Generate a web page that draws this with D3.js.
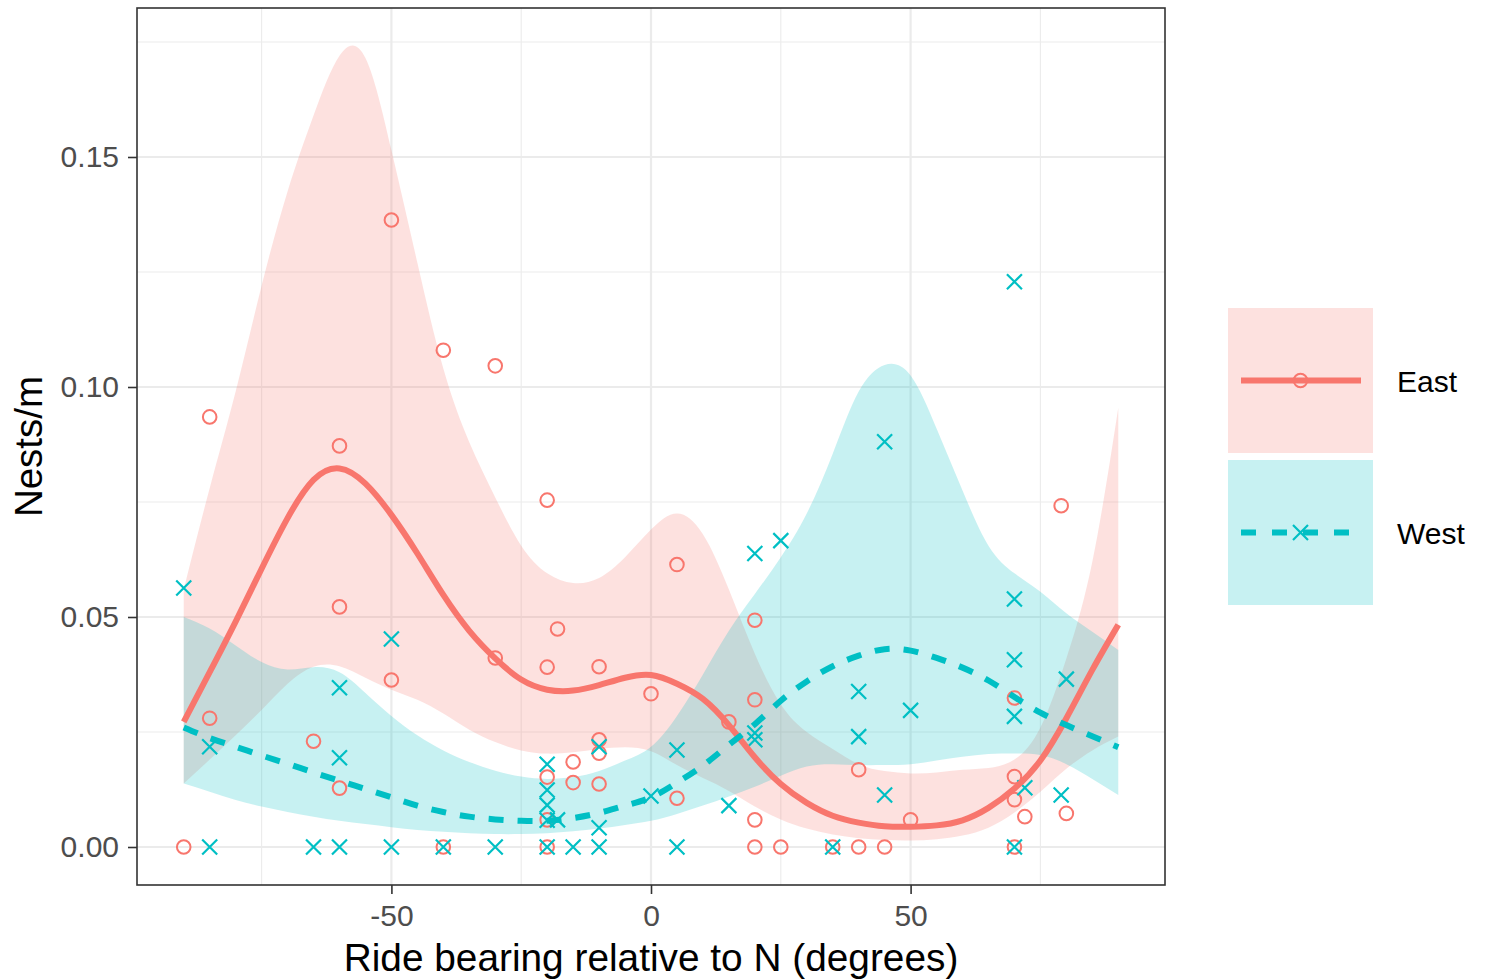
<!DOCTYPE html>
<html>
<head>
<meta charset="utf-8">
<script src="https://cdn.jsdelivr.net/npm/d3@7/dist/d3.min.js"></script>
<style>
  html, body { margin: 0; padding: 0; background: #ffffff; }
  svg { display: block; font-family: "Liberation Sans", Arial, Helvetica, sans-serif; }
</style>
</head>
<body>
<script>
// ---- Observed nest densities by ride bearing ----
const eastBearing = [-90,-85,-85,-65,-60,-60,-60,-50,-50,-40,-40,-30,-30,-20,-20,-20,-20,-20,-18,-15,-15,-10,-10,-10,-10,0,5,5,15,20,20,20,20,25,35,40,40,45,50,70,70,70,70,72,79,80];
const eastNests   = [0,0.028,0.0935,0.023,0.0872,0.0522,0.0128,0.1363,0.0363,0.108,0,0.1046,0.0411,0.0754,0.0391,0.0152,0.0059,0,0.0474,0.0185,0.014,0.0392,0.0233,0.0204,0.0137,0.0333,0.0614,0.0106,0.0272,0.0493,0.032,0.0059,0,0,0,0.0168,0,0,0.0059,0.0324,0.0153,0.0103,0,0.0066,0.0742,0.0073];

const westBearing = [-90,-85,-85,-65,-60,-60,-60,-50,-50,-40,-30,-20,-20,-20,-20,-18,-20,-15,-10,-10,-10,0,5,5,15,20,20,20,25,35,40,40,45,45,50,70,70,70,70,72,70,80,79];
const westNests   = [0.0563,0.0218,0,0,0.0346,0.0194,0,0.0452,0,0,0,0.018,0.0124,0.0091,0.0058,0.0059,0,0,0.0218,0.0042,0,0.0111,0.0211,0,0.009,0.0248,0.0233,0.0638,0.0666,0,0.0338,0.024,0.0881,0.0113,0.0297,0.1229,0.0539,0.0407,0.0284,0.0129,0,0.0365,0.0113];

// ---- Smoothed fits with confidence bands, sampled along the bearing axis ----
const smoothBearing = [-90,-85,-80,-75,-70,-65,-60,-55,-50,-45,-40,-35,-30,-25,-20,-15,-10,-5,0,5,10,15,20,25,30,35,40,45,50,55,60,65,70,75,80,85,90];

const eastFit = [0.0272,0.0380,0.0490,0.0605,0.0715,0.0798,0.0823,0.0790,0.0722,0.0638,0.0548,0.0470,0.0410,0.0364,0.0342,0.0340,0.0352,0.0368,0.0374,0.0355,0.0322,0.0265,0.0195,0.0137,0.0096,0.0068,0.0053,0.0045,0.0044,0.0047,0.0058,0.0085,0.0127,0.0188,0.0280,0.0385,0.0483];
const eastLow = [0.0138,0.0190,0.0243,0.0298,0.0355,0.0392,0.0393,0.0368,0.0342,0.0320,0.0290,0.0255,0.0228,0.0210,0.0203,0.0206,0.0213,0.0217,0.0208,0.0178,0.0150,0.0122,0.0088,0.0060,0.0040,0.0027,0.0019,0.0015,0.0014,0.0017,0.0025,0.0042,0.0075,0.0120,0.0170,0.0210,0.0240];
const eastHigh = [0.0560,0.0780,0.0990,0.1220,0.1425,0.1590,0.1720,0.1715,0.1515,0.1270,0.1040,0.0880,0.0760,0.0655,0.0595,0.0574,0.0585,0.0630,0.0690,0.0725,0.0680,0.0560,0.0420,0.0310,0.0250,0.0213,0.0180,0.0165,0.0160,0.0162,0.0168,0.0172,0.0190,0.0260,0.0410,0.0620,0.0955];

const westFit = [0.0260,0.0237,0.0218,0.0199,0.0181,0.0162,0.0144,0.0126,0.0108,0.0090,0.0076,0.0066,0.0060,0.0057,0.0057,0.0063,0.0074,0.0090,0.0108,0.0140,0.0177,0.0222,0.0267,0.0318,0.0360,0.0393,0.0416,0.0430,0.0427,0.0411,0.0390,0.0362,0.0326,0.0292,0.0265,0.0241,0.0217];
const westLow = [0.0138,0.0120,0.0102,0.0088,0.0076,0.0066,0.0057,0.0050,0.0043,0.0037,0.0033,0.0030,0.0028,0.0028,0.0030,0.0034,0.0040,0.0048,0.0057,0.0072,0.0090,0.0110,0.0131,0.0155,0.0175,0.0180,0.0178,0.0178,0.0180,0.0188,0.0196,0.0202,0.0203,0.0200,0.0180,0.0148,0.0113];
const westHigh = [0.0500,0.0475,0.0438,0.0402,0.0386,0.0391,0.0380,0.0335,0.0285,0.0243,0.0210,0.0185,0.0166,0.0153,0.0148,0.0152,0.0165,0.0188,0.0218,0.0285,0.0375,0.0470,0.0550,0.0630,0.0725,0.0855,0.0990,0.1048,0.1025,0.0910,0.0775,0.0655,0.0595,0.0555,0.0508,0.0468,0.0428];

// ---- Axis ticks and labels ----
const xMajorTicks = [-50, 0, 50];
const xMinorTicks = [-75, -25, 25, 75];
const yMajorTicks = [0, 0.05, 0.10, 0.15];
const yMinorTicks = [0.025, 0.075, 0.125, 0.175];
const groups = ["East", "West"];
const groupColors = ["#F8766D", "#00BFC4"];
const xTitle = "Ride bearing relative to N (degrees)";
const yTitle = "Nests/m";

// ---- Layout ----
const W = 1485, H = 980;
const panel = { left: 137, right: 1165, top: 8, bottom: 885 };

const svg = d3.select("body").append("svg").attr("width", W).attr("height", H);

const x = d3.scaleLinear().domain([-99, 99]).range([panel.left, panel.right]);
const y = d3.scaleLinear().domain([-0.00826, 0.18239]).range([panel.bottom, panel.top]);

svg.append("defs").append("clipPath").attr("id", "panel-clip")
  .append("rect")
  .attr("x", panel.left).attr("y", panel.top)
  .attr("width", panel.right - panel.left).attr("height", panel.bottom - panel.top);

// panel background
svg.append("rect")
  .attr("x", panel.left).attr("y", panel.top)
  .attr("width", panel.right - panel.left).attr("height", panel.bottom - panel.top)
  .attr("fill", "#ffffff");

// grid lines
const grid = svg.append("g").attr("stroke", "#EBEBEB").attr("fill", "none");
grid.selectAll(".xminor").data(xMinorTicks).join("line")
  .attr("x1", d => x(d)).attr("x2", d => x(d))
  .attr("y1", panel.top).attr("y2", panel.bottom).attr("stroke-width", 1.1);
grid.selectAll(".yminor").data(yMinorTicks).join("line")
  .attr("y1", d => y(d)).attr("y2", d => y(d))
  .attr("x1", panel.left).attr("x2", panel.right).attr("stroke-width", 1.1);
grid.selectAll(".xmajor").data(xMajorTicks).join("line")
  .attr("x1", d => x(d)).attr("x2", d => x(d))
  .attr("y1", panel.top).attr("y2", panel.bottom).attr("stroke-width", 2.2);
grid.selectAll(".ymajor").data(yMajorTicks).join("line")
  .attr("y1", d => y(d)).attr("y2", d => y(d))
  .attr("x1", panel.left).attr("x2", panel.right).attr("stroke-width", 2.2);

const plot = svg.append("g").attr("clip-path", "url(#panel-clip)");

function bandRows(fit, lo, hi) {
  return smoothBearing.map((b, i) => ({ b, fit: fit[i], lo: lo[i], hi: hi[i] }));
}
const bands = [bandRows(eastFit, eastLow, eastHigh), bandRows(westFit, westLow, westHigh)];

const curve = d3.curveNatural;
const area = d3.area().curve(curve)
  .x(d => x(d.b)).y0(d => y(d.lo)).y1(d => y(d.hi));
const line = d3.line().curve(curve)
  .x(d => x(d.b)).y(d => y(d.fit));

// confidence ribbons
bands.forEach((rows, i) => {
  plot.append("path").datum(rows)
    .attr("d", area)
    .attr("fill", groupColors[i])
    .attr("fill-opacity", 0.22);
});

// observed points
const crossHalf = 7.5;
function crossPath(cx, cy) {
  return `M${cx - crossHalf},${cy - crossHalf}L${cx + crossHalf},${cy + crossHalf}` +
         `M${cx - crossHalf},${cy + crossHalf}L${cx + crossHalf},${cy - crossHalf}`;
}

plot.append("g").selectAll("circle")
  .data(eastBearing.map((b, i) => [b, eastNests[i]]))
  .join("circle")
  .attr("cx", d => x(d[0])).attr("cy", d => y(d[1]))
  .attr("r", 6.8)
  .attr("fill", "none").attr("stroke", groupColors[0]).attr("stroke-width", 2);

plot.append("g").selectAll("path")
  .data(westBearing.map((b, i) => [b, westNests[i]]))
  .join("path")
  .attr("d", d => crossPath(x(d[0]), y(d[1])))
  .attr("fill", "none").attr("stroke", groupColors[1]).attr("stroke-width", 2.2);

// fitted curves
plot.append("path").datum(bands[0])
  .attr("d", line)
  .attr("fill", "none").attr("stroke", groupColors[0])
  .attr("stroke-width", 6).attr("stroke-linecap", "butt");
plot.append("path").datum(bands[1])
  .attr("d", line)
  .attr("fill", "none").attr("stroke", groupColors[1])
  .attr("stroke-width", 6).attr("stroke-linecap", "butt")
  .attr("stroke-dasharray", "15,14");

// panel border
svg.append("rect")
  .attr("x", panel.left).attr("y", panel.top)
  .attr("width", panel.right - panel.left).attr("height", panel.bottom - panel.top)
  .attr("fill", "none").attr("stroke", "#333333").attr("stroke-width", 1.6);

// axes
const fmtX = d => (d < 0 ? "-" + Math.abs(d) : String(d));
const xAxis = d3.axisBottom(x).tickValues(xMajorTicks).tickFormat(fmtX)
  .tickSize(9).tickPadding(11).tickSizeOuter(0);
const yAxis = d3.axisLeft(y).tickValues(yMajorTicks).tickFormat(d3.format(".2f"))
  .tickSize(9).tickPadding(9).tickSizeOuter(0);

const gx = svg.append("g").attr("transform", `translate(0,${panel.bottom})`).call(xAxis);
const gy = svg.append("g").attr("transform", `translate(${panel.left},0)`).call(yAxis);
[gx, gy].forEach(g => {
  g.select(".domain").remove();
  g.selectAll(".tick line").attr("stroke", "#333333").attr("stroke-width", 1.6);
  g.selectAll(".tick text")
    .attr("fill", "#4D4D4D")
    .style("font-size", "30px")
    .style("font-family", "'Liberation Sans', Arial, sans-serif");
});

// axis titles
svg.append("text")
  .attr("x", (panel.left + panel.right) / 2).attr("y", 971)
  .attr("text-anchor", "middle")
  .style("font-size", "38.8px").attr("fill", "#000000")
  .text(xTitle);

svg.append("text")
  .attr("transform", `translate(42,${(panel.top + panel.bottom) / 2}) rotate(-90)`)
  .attr("text-anchor", "middle")
  .style("font-size", "38.5px").attr("fill", "#000000")
  .text(yTitle);

// legend
const legend = svg.append("g");
const keyX = 1228, keyW = 145, keyH = 145;
const keyTops = [308, 460];
groups.forEach((name, i) => {
  const top = keyTops[i];
  const cy = top + keyH / 2;
  const cx = keyX + keyW / 2;
  legend.append("rect")
    .attr("x", keyX).attr("y", top).attr("width", keyW).attr("height", keyH)
    .attr("fill", groupColors[i]).attr("fill-opacity", 0.22);
  const seg = legend.append("line")
    .attr("x1", keyX + 13).attr("x2", keyX + keyW - 12)
    .attr("y1", cy).attr("y2", cy)
    .attr("stroke", groupColors[i]).attr("stroke-width", 6);
  if (i === 0) {
    legend.append("circle").attr("cx", cx).attr("cy", cy).attr("r", 6.8)
      .attr("fill", "none").attr("stroke", groupColors[i]).attr("stroke-width", 2);
  } else {
    seg.attr("stroke-dasharray", "15,16").attr("x2", keyX + 13 + 15 * 4 + 16 * 3 + 8);
    legend.append("path").attr("d", crossPath(cx, cy))
      .attr("fill", "none").attr("stroke", groupColors[i]).attr("stroke-width", 2.2);
  }
  legend.append("text")
    .attr("x", 1397).attr("y", cy + 11)
    .style("font-size", "30px").attr("fill", "#000000")
    .text(name);
});
</script>
</body>
</html>
